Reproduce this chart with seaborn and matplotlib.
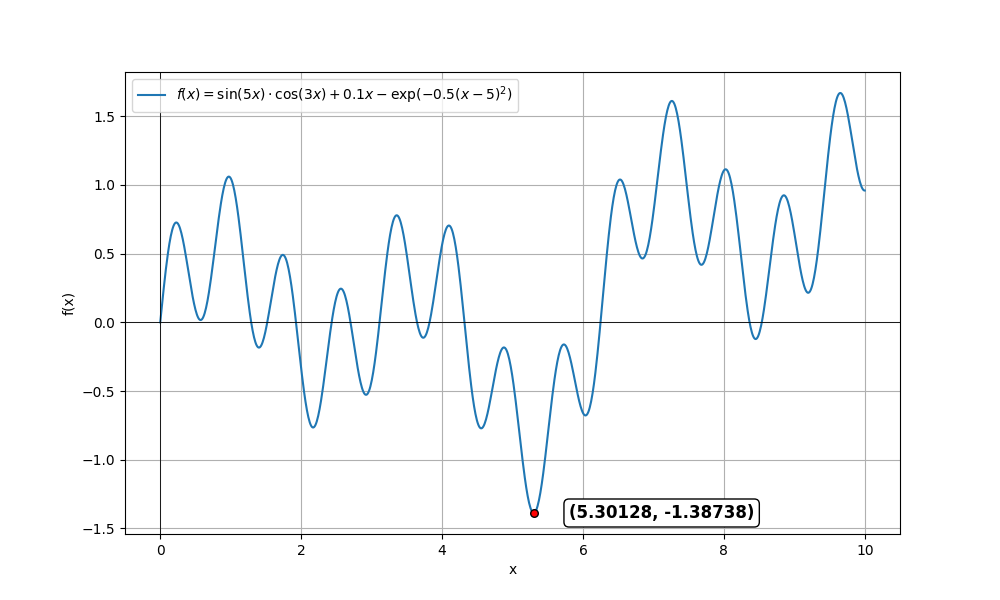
import numpy as np
import pandas as pd
import matplotlib
matplotlib.use('Agg')
import matplotlib.pyplot as plt
import seaborn as sns

# The curve is the function stated in the chart's own legend
x_start, x_end, n_points = 0, 10, 1000
legend_label = r'$f(x) = \sin(5x) \cdot \cos(3x) + 0.1x - \exp(-0.5(x-5)^2)$'

# minimum point, as written in the annotation
x_min = 5.30128
y_min = -1.38738

x_vals = np.linspace(x_start, x_end, n_points)
y_vals = np.sin(5 * x_vals) * np.cos(3 * x_vals) + 0.1 * x_vals - np.exp(-0.5 * (x_vals - 5) ** 2)
df = pd.DataFrame({'x': x_vals, 'f(x)': y_vals})

fig, ax = plt.subplots(figsize=(10, 6), dpi=100)
sns.lineplot(data=df, x='x', y='f(x)', ax=ax, label=legend_label, color='#1f77b4', linewidth=1.5)

ax.axhline(0, color='black', linewidth=0.6)
ax.axvline(0, color='black', linewidth=0.6)

ax.scatter([x_min], [y_min], color='red', edgecolor='black', s=30, zorder=5)
ax.annotate(f'({x_min}, {y_min})', xy=(x_min, y_min), xytext=(x_min + 0.5, y_min),
            fontsize=12, fontweight='bold', va='center', ha='left',
            bbox=dict(boxstyle='round,pad=0.3', facecolor='white', edgecolor='black'))

ax.set_xlabel('x')
ax.set_ylabel('f(x)')
ax.grid(True)
ax.legend(loc='upper left')

plt.savefig('out.png', dpi=100)
